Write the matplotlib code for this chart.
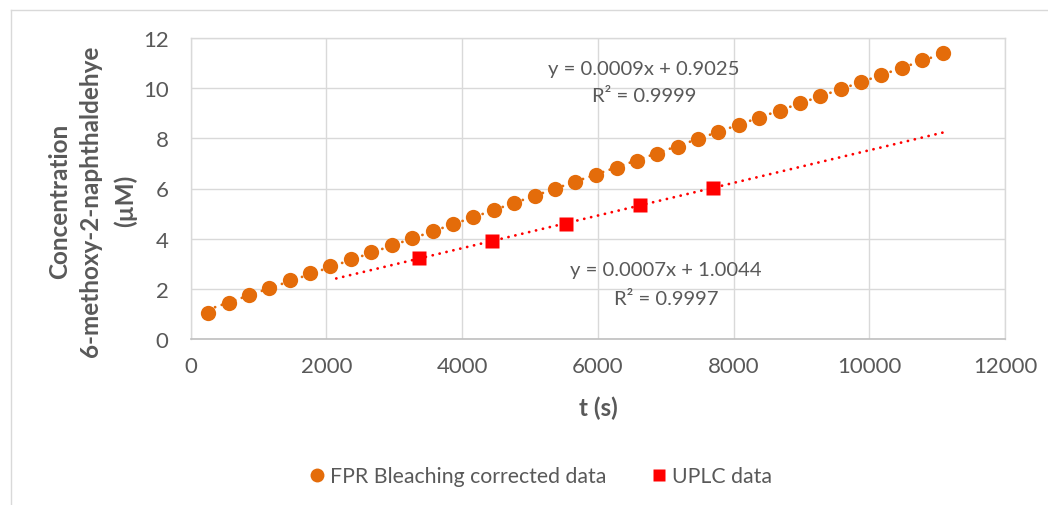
import numpy as np
import matplotlib.pyplot as plt
from matplotlib.lines import Line2D

plt.rcParams['font.family'] = ['Lato', 'DejaVu Sans']

# FPR bleaching corrected data
t_fpr = [260, 565, 860, 1160, 1465, 1760, 2060, 2360, 2660, 2960, 3260, 3565,
         3865, 4165, 4465, 4765, 5070, 5370, 5665, 5970, 6275, 6575, 6870, 7175,
         7475, 7775, 8075, 8375, 8680, 8980, 9280, 9580, 9880, 10180, 10480,
         10780, 11080]
c_fpr = [1.02, 1.42, 1.74, 2.03, 2.35, 2.63, 2.92, 3.20, 3.48, 3.75, 4.04, 4.31,
         4.59, 4.86, 5.16, 5.44, 5.70, 5.98, 6.25, 6.54, 6.82, 7.08, 7.38, 7.67,
         7.97, 8.25, 8.53, 8.81, 9.09, 9.40, 9.68, 9.97, 10.25, 10.54, 10.81,
         11.11, 11.39]

# UPLC data
t_uplc = [3370, 4445, 5525, 6615, 7695]
c_uplc = [3.23, 3.89, 4.59, 5.35, 6.02]

fit_fpr_label = ['y = 0.0009x + 0.9025', 'R\u00b2 = 0.9999']
fit_uplc_label = ['y = 0.0007x + 1.0044', 'R\u00b2 = 0.9997']
uplc_trend_range = [2145, 11080]

orange = '#E46C0A'
red = '#FF0000'
grey_text = '#595959'
grid_c = '#D9D9D9'

W, H = 1048, 506
fig = plt.figure(figsize=(W/100, H/100), dpi=100)
ax = fig.add_axes([190.7/W, 1 - 340/H, (1005 - 190.7)/W, (340 - 39)/H])

dotted = dict(linestyle=(0, (0.05, 2.5)), dash_capstyle='round', lw=2.0)

# linear trendlines
p_fpr = np.polyfit(t_fpr, c_fpr, 1)
xf = np.array([t_fpr[0], t_fpr[-1]])
ax.plot(xf, np.polyval(p_fpr, xf), color=orange, zorder=2, **dotted)

p_uplc = np.polyfit(t_uplc, c_uplc, 1)
xu = np.array(uplc_trend_range)
ax.plot(xu, np.polyval(p_uplc, xu), color=red, zorder=2, **dotted)

ax.plot(t_fpr, c_fpr, 'o', color=orange, ms=11, mec='none', zorder=3)
ax.plot(t_uplc, c_uplc, 's', color=red, ms=10, mec='none', zorder=4)

ax.set_xlim(0, 12000)
ax.set_ylim(0, 12)
ax.set_xticks(np.arange(0, 12001, 2000))
ax.set_yticks(np.arange(0, 13, 2))
ax.grid(True, color=grid_c, lw=1.0)
ax.set_axisbelow(True)
ax.tick_params(length=0, labelsize=16, labelcolor=grey_text)
ax.tick_params(axis='y', pad=16)
ax.tick_params(axis='x', pad=12)
for side in ['top', 'right', 'left']:
    ax.spines[side].set_color(grid_c)
    ax.spines[side].set_linewidth(1.0)
ax.spines['bottom'].set_color('#BFBFBF')
ax.spines['bottom'].set_linewidth(1.2)

# trendline equations
txt = dict(fontsize=14.6, color=grey_text, ha='center', va='center')
ax.text(6676, 10.77, fit_fpr_label[0], **txt)
ax.text(6676, 9.69, fit_fpr_label[1], **txt)
ax.text(7008, 2.79, fit_uplc_label[0], **txt)
ax.text(7008, 1.63, fit_uplc_label[1], **txt)

# axis titles
lab = dict(fontsize=17.5, color=grey_text, fontweight='bold', ha='center', va='center')
fig.text(598/W, 1 - 408/H, 't (s)', **lab)
for xpix, line in zip([60, 91, 125], ['Concentration', '6-methoxy-2-naphthaldehye', '(\u00b5M)']):
    fig.text(xpix/W, 1 - 201/H, line, rotation=90, **lab)

handles = [
    Line2D([], [], ls='none', marker='o', color=orange, ms=10, mec='none'),
    Line2D([], [], ls='none', marker='s', color=red, ms=9, mec='none'),
]
fig.legend(handles, ['FPR Bleaching corrected data', 'UPLC data'], loc='center',
           bbox_to_anchor=(539/W, 1 - 477/H), ncol=2, frameon=False,
           fontsize=15.3, labelcolor=grey_text, handletextpad=0.1,
           handlelength=1.0, columnspacing=2.0)

# chart area border
fig.add_artist(Line2D([10.5/W, 10.5/W], [0, 1 - 10.5/H], color=grid_c, lw=1.0,
                      transform=fig.transFigure))
fig.add_artist(Line2D([10.5/W, 1], [1 - 10.5/H, 1 - 10.5/H], color=grid_c, lw=1.0,
                      transform=fig.transFigure))

fig.savefig('out.png', dpi=100)
